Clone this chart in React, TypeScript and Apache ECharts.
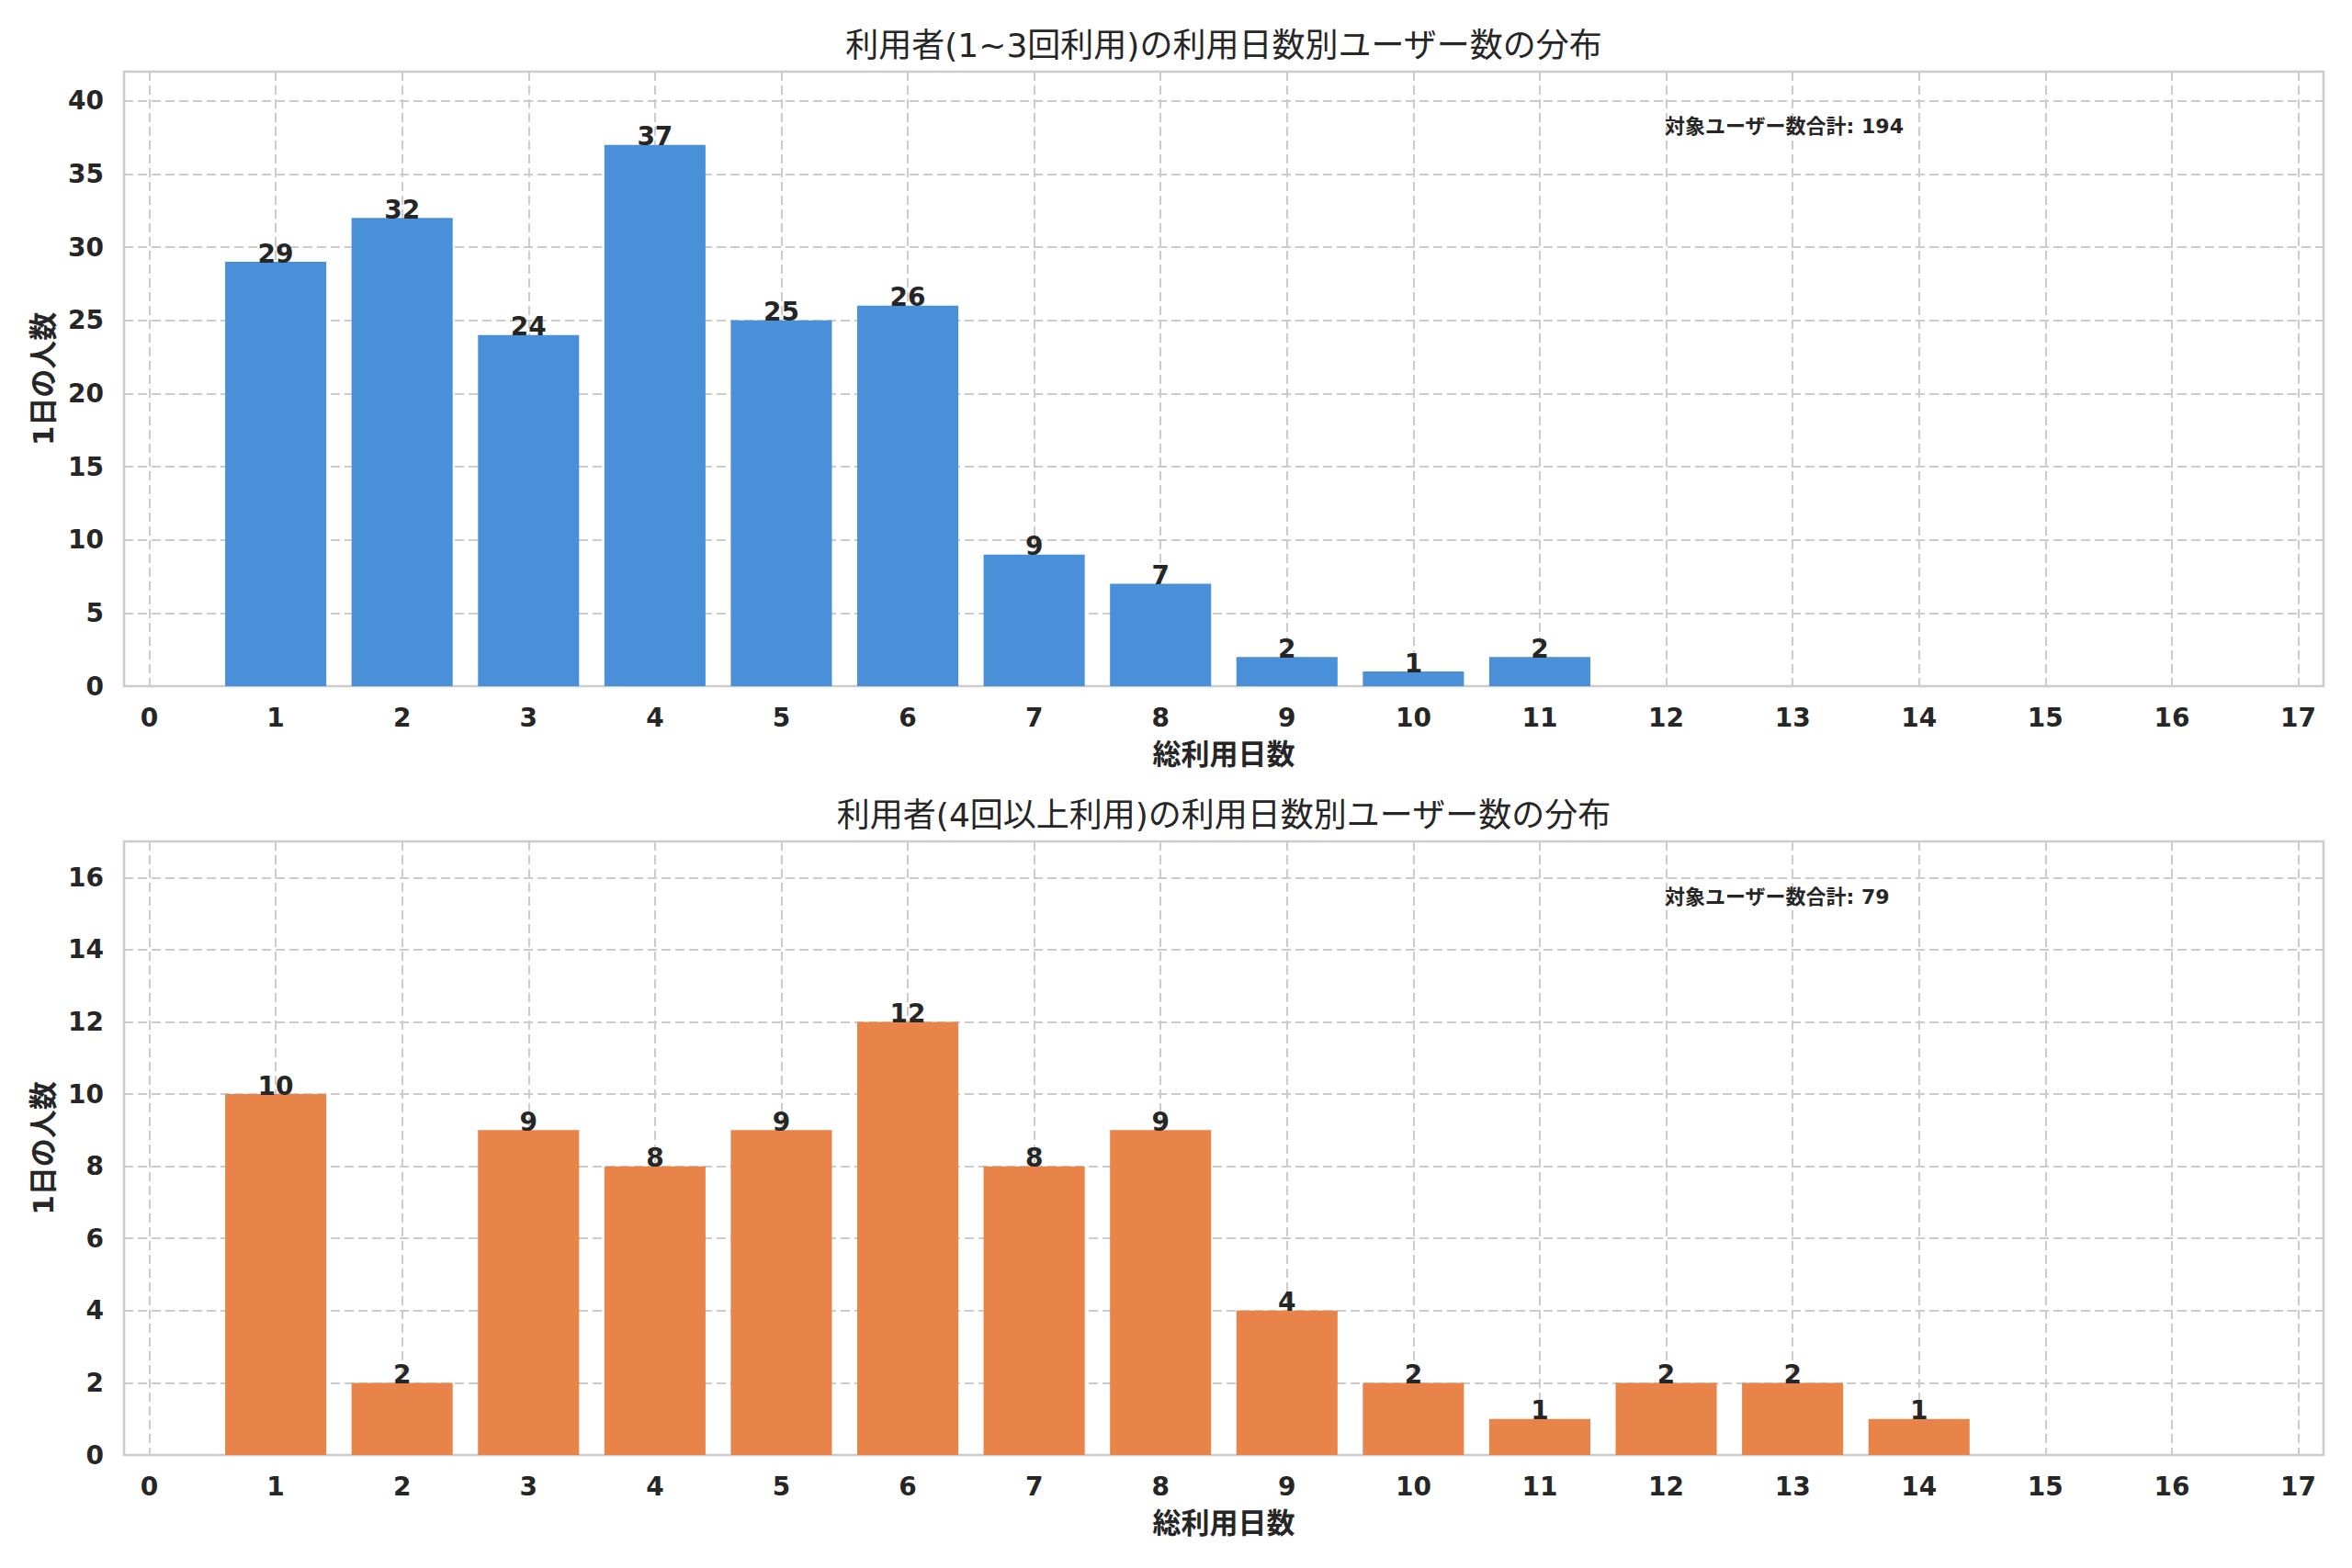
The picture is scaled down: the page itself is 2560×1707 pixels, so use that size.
import React, { useEffect, useRef } from "react";
import * as echarts from "echarts";

const xTicks = [0, 1, 2, 3, 4, 5, 6, 7, 8, 9, 10, 11, 12, 13, 14, 15, 16, 17];
const topX = [1, 2, 3, 4, 5, 6, 7, 8, 9, 10, 11];
const topCounts = [29, 32, 24, 37, 25, 26, 9, 7, 2, 1, 2];
const bottomX = [1, 2, 3, 4, 5, 6, 7, 8, 9, 10, 11, 12, 13, 14];
const bottomCounts = [10, 2, 9, 8, 9, 12, 8, 9, 4, 2, 1, 2, 2, 1];
const topTitle = "利用者(1~3回利用)の利用日数別ユーザー数の分布";
const bottomTitle = "利用者(4回以上利用)の利用日数別ユーザー数の分布";
const xName = "総利用日数";
const yName = "1日の人数";
const totalLabel = "対象ユーザー数合計";
const topTotal = 194;
const bottomTotal = 79;

const FONT = "'DejaVu Sans', 'Noto Sans CJK JP', sans-serif";
const TXT = "#262626";
const GRIDC = "#cccccc";

export default function App() {
  const ref = useRef<HTMLDivElement>(null);
  useEffect(() => {
    if (!ref.current) return;
    const chart = echarts.init(ref.current, null, { renderer: "svg" });
    const boxLeft = 135;
    const boxWidth = 2394;
    const xMin = -0.2;
    const xMax = 17.2;
    const unit = boxWidth / (xMax - xMin);
    const innerLeft = boxLeft + (0 - xMin) * unit;
    const innerWidth = 17 * unit;
    const barW = 0.8 * unit;
    const panels = [
      { top: 78, height: 669, ymax: 42, yint: 5, color: "#4A90D9", xs: topX, ys: topCounts },
      { top: 916, height: 668, ymax: 17, yint: 2, color: "#E8834A", xs: bottomX, ys: bottomCounts },
    ];
    const grid: any[] = [];
    const xAxis: any[] = [];
    const yAxis: any[] = [];
    const series: any[] = [];
    panels.forEach((p, i) => {
      grid.push({
        left: boxLeft, top: p.top, width: boxWidth, height: p.height,
        show: true, borderColor: GRIDC, borderWidth: 2.5, backgroundColor: "transparent",
      });
      grid.push({ left: innerLeft, top: p.top, width: innerWidth, height: p.height, show: false });
      const ga = i * 2;
      const gb = i * 2 + 1;
      xAxis.push({
        type: "value", gridIndex: ga, min: xMin, max: xMax,
        axisLine: { show: false }, axisTick: { show: false }, axisLabel: { show: false },
        splitLine: { show: false },
      });
      xAxis.push({
        type: "value", gridIndex: gb, min: xTicks[0], max: xTicks[xTicks.length - 1], interval: 1,
        axisLine: { show: false }, axisTick: { show: false },
        axisLabel: { show: true, margin: 20, fontSize: 28, fontWeight: "bold", color: TXT, fontFamily: FONT },
        splitLine: { show: true, lineStyle: { color: GRIDC, width: 2, type: [10, 5] } },
        name: xName, nameLocation: "middle", nameGap: 58,
        nameTextStyle: { fontSize: 31, fontWeight: "bold", color: TXT, fontFamily: FONT, lineHeight: 32 },
      });
      yAxis.push({
        type: "value", gridIndex: ga, min: 0, max: p.ymax, interval: p.yint,
        axisLine: { show: false }, axisTick: { show: false },
        axisLabel: {
          margin: 22, fontSize: 28, fontWeight: "bold", color: TXT, fontFamily: FONT,
          formatter: (v: number) => (v % p.yint === 0 ? String(v) : ""),
        },
        splitLine: { show: true, lineStyle: { color: GRIDC, width: 2, type: [10, 5] } },
        name: yName, nameLocation: "middle", nameGap: 70, nameRotate: 90,
        nameTextStyle: { fontSize: 31, fontWeight: "bold", color: TXT, fontFamily: FONT, lineHeight: 32 },
      });
      yAxis.push({
        type: "value", gridIndex: gb, min: 0, max: p.ymax, show: false,
        splitLine: { show: false },
      });
      series.push({
        type: "bar", xAxisIndex: ga, yAxisIndex: ga,
        barWidth: barW,
        itemStyle: { color: p.color },
        data: p.xs.map((x, k) => [x, p.ys[k]]),
        label: {
          show: true, position: "top", distance: -5,
          fontSize: 28, fontWeight: "bold", color: TXT, fontFamily: FONT,
          formatter: (d: any) => String(d.value[1]),
        },
        z: 3,
      });
    });

    const center = boxLeft + boxWidth / 2;
    chart.setOption({
      animation: false,
      backgroundColor: "#ffffff",
      textStyle: { fontFamily: FONT },
      title: [
        { text: topTitle, left: center, top: 30, textAlign: "center", padding: 0,
          textStyle: { fontSize: 36, fontWeight: "normal", color: TXT, fontFamily: FONT, lineHeight: 38 } },
        { text: bottomTitle, left: center, top: 868, textAlign: "center", padding: 0,
          textStyle: { fontSize: 36, fontWeight: "normal", color: TXT, fontFamily: FONT, lineHeight: 38 } },
      ],
      grid, xAxis, yAxis, series,
      graphic: [
        { type: "text", left: 1812, top: 126, z: 10,
          style: { text: `${totalLabel}: ${topTotal}`, fontSize: 22, fontWeight: "bold", fill: TXT, fontFamily: FONT } },
        { type: "text", left: 1812, top: 965, z: 10,
          style: { text: `${totalLabel}: ${bottomTotal}`, fontSize: 22, fontWeight: "bold", fill: TXT, fontFamily: FONT } },
      ],
    });
    return () => chart.dispose();
  }, []);
  return (
    <div
      ref={ref}
      style={{ position: "absolute", left: 0, top: 0, width: 2560, height: 1707, background: "#fff" }}
    />
  );
}
